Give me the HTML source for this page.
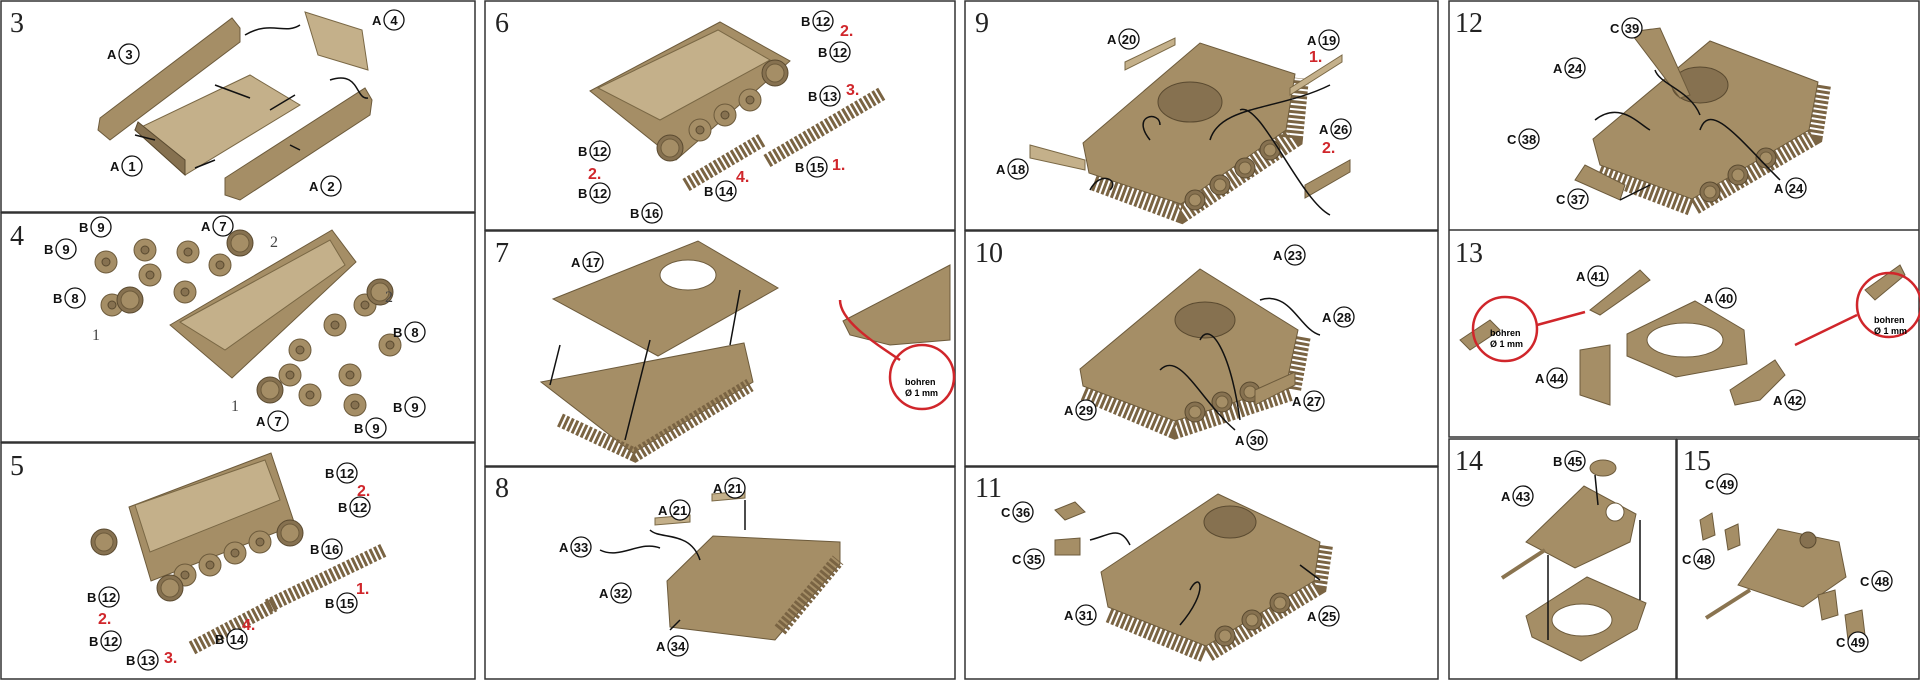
<!DOCTYPE html>
<html><head><meta charset="utf-8"><style>
html,body{margin:0;padding:0;background:#fff;}
svg{display:block;}
.s{font-family:"Liberation Serif",serif;font-size:28px;fill:#222;}
.l{font-family:"Liberation Sans",sans-serif;font-size:13px;font-weight:bold;fill:#111;}
.r{font-family:"Liberation Sans",sans-serif;font-size:16px;font-weight:bold;fill:#d0262b;}
.n{font-family:"Liberation Serif",serif;font-size:16px;fill:#444;}
.t{fill:#a58e66;stroke:#6d5b3c;stroke-width:1;}
.d{fill:#867150;stroke:#5a4a30;stroke-width:1;}
.h{fill:#c4b08a;stroke:#7a6845;stroke-width:1;}
.c{fill:#fff;stroke:#111;stroke-width:1.3;}
.a{fill:none;stroke:#111;stroke-width:1.5;}
.rd{fill:none;stroke:#d0262b;stroke-width:2.5;}
.tr{fill:none;stroke:#7a6443;stroke-width:14;stroke-dasharray:3 2;}
.tk{fill:none;stroke:#5a4a30;stroke-width:16;}
</style></head><body>
<svg width="1920" height="680" viewBox="0 0 1920 680" xmlns="http://www.w3.org/2000/svg">
<defs>
<g id="w"><circle r="11" class="t"/><circle r="4" class="d"/></g>
<g id="W"><circle r="13" class="d"/><circle r="9" class="t"/></g>
<g id="rw"><circle r="10" class="d"/><circle r="6" class="t"/></g>
</defs>
<g fill="none" stroke="#333" stroke-width="1.5">
<rect x="1" y="1" width="474" height="211"/>
<rect x="1" y="213" width="474" height="229"/>
<rect x="1" y="443" width="474" height="236"/>
<rect x="485" y="1" width="470" height="229"/>
<rect x="485" y="231" width="470" height="235"/>
<rect x="485" y="467" width="470" height="212"/>
<rect x="965" y="1" width="473" height="229"/>
<rect x="965" y="231" width="473" height="235"/>
<rect x="965" y="467" width="473" height="212"/>
<rect x="1449" y="1" width="470" height="436"/>
<rect x="1449" y="439" width="227" height="240"/>
<rect x="1677" y="439" width="242" height="240"/>
<line x1="1449" y1="230" x2="1919" y2="230"/>
</g>
<text class="s" x="10" y="32">3</text><text class="s" x="10" y="245">4</text><text class="s" x="10" y="475">5</text>
<text class="s" x="495" y="32">6</text><text class="s" x="495" y="262">7</text><text class="s" x="495" y="497">8</text>
<text class="s" x="975" y="32">9</text><text class="s" x="975" y="262">10</text><text class="s" x="975" y="497">11</text>
<text class="s" x="1455" y="32">12</text><text class="s" x="1455" y="262">13</text><text class="s" x="1455" y="470">14</text><text class="s" x="1683" y="470">15</text>

<!-- Panel 3 -->
<polygon class="t" points="100,118 232,18 240,28 240,42 110,140 98,130"/>
<polygon class="h" points="135,130 250,75 300,105 185,175"/>
<polygon class="d" points="135,130 185,175 185,160 138,122"/>
<polygon class="t" points="225,178 365,88 372,100 370,115 240,200 225,195"/>
<polygon class="h" points="305,12 362,30 368,70 318,55"/>
<path class="a" d="M245,35 C270,20 285,35 300,25 M330,80 C360,70 355,100 368,98 M215,85 L250,98 M295,95 L270,110 M300,150 L290,145 M155,140 L135,135 M195,168 L215,160"/>
<!-- Panel 4 -->
<polygon class="t" points="170,325 332,230 356,262 232,378"/>
<polygon class="h" points="180,322 330,240 345,265 225,350"/>
<use href="#w" x="145" y="250"/><use href="#w" x="106" y="262"/><use href="#w" x="112" y="305"/><use href="#w" x="150" y="275"/><use href="#w" x="188" y="252"/><use href="#w" x="185" y="292"/><use href="#w" x="220" y="265"/><use href="#W" x="130" y="300"/><use href="#W" x="240" y="243"/>
<use href="#w" x="300" y="350"/><use href="#w" x="335" y="325"/><use href="#w" x="365" y="305"/><use href="#w" x="390" y="345"/><use href="#w" x="350" y="375"/><use href="#w" x="310" y="395"/><use href="#w" x="355" y="405"/><use href="#w" x="290" y="375"/><use href="#W" x="270" y="390"/><use href="#W" x="380" y="292"/>
<!-- Panel 5 -->
<polygon class="t" points="129,507 271,453 295,525 151,581"/>
<polygon class="h" points="135,505 265,460 280,500 150,552"/>
<use href="#W" x="104" y="542"/><use href="#W" x="290" y="533"/><use href="#w" x="185" y="575"/><use href="#w" x="210" y="565"/><use href="#w" x="235" y="553"/><use href="#w" x="260" y="542"/><use href="#W" x="170" y="588"/>
<path class="tr" d="M268,606 L384,550"/>
<path class="tr" d="M192,648 L274,605"/>
<!-- Panel 6 -->
<polygon class="t" points="590,91 720,22 790,61 676,160"/>
<polygon class="h" points="598,88 718,30 770,60 660,120"/>
<use href="#W" x="775" y="73"/><use href="#W" x="670" y="148"/><use href="#w" x="700" y="130"/><use href="#w" x="725" y="115"/><use href="#w" x="750" y="100"/>
<path class="tr" d="M767,161 L883,93"/>
<path class="tr" d="M686,185 L762,140"/>
<!-- Panel 7 -->
<polygon class="t" points="541,382 744,343 753,382 633,453"/>
<path class="tr" d="M560,420 L635,455 L750,385"/>
<polygon class="t" points="553,299 698,241 778,288 658,356"/>
<ellipse cx="688" cy="275" rx="28" ry="15" fill="#fff" stroke="#6d5b3c"/>
<polygon class="t" points="843,321 950,265 950,340 890,345 850,335"/>
<path class="rd" d="M900,360 C870,340 840,320 840,300"/>
<circle cx="922" cy="377" r="32" class="rd"/>
<text x="905" y="385" style="font:bold 9px 'Liberation Sans',sans-serif">bohren</text>
<text x="905" y="396" style="font:bold 9px 'Liberation Sans',sans-serif">Ø 1 mm</text>
<path class="a" d="M560,345 L550,385 M650,340 L625,440 M740,290 L730,345"/>
<!-- Panel 8 -->
<polygon class="t" points="667,581 713,536 840,542 840,564 775,640 670,627"/>
<path class="tr" d="M780,630 L838,560"/>
<polygon class="h" points="655,518 690,515 690,522 655,525"/>
<polygon class="h" points="712,494 745,491 745,498 712,501"/>
<!-- Panel 9 -->
<path class="tr" d="M1095,180 L1181,212 L1292,138 L1298,78" style="stroke-width:22"/>
<polygon class="t" points="1083,143 1200,43 1295,74 1286,130 1181,204 1089,173"/>
<use href="#rw" x="1195" y="200"/><use href="#rw" x="1220" y="185"/><use href="#rw" x="1245" y="168"/><use href="#rw" x="1270" y="150"/>
<ellipse cx="1190" cy="102" rx="32" ry="20" class="d"/>
<polygon class="h" points="1125,62 1175,38 1175,45 1125,70"/>
<polygon class="h" points="1290,88 1342,55 1342,62 1290,95"/>
<polygon class="h" points="1030,145 1085,160 1085,170 1030,158"/>
<polygon class="t" points="1305,185 1350,160 1350,172 1305,198"/>
<!-- Panel 10 -->
<path class="tr" d="M1085,390 L1175,428 L1290,390 L1300,335" style="stroke-width:22"/>
<polygon class="t" points="1080,369 1200,269 1298,330 1286,386 1175,421 1083,386"/>
<use href="#rw" x="1195" y="412"/><use href="#rw" x="1222" y="402"/><use href="#rw" x="1250" y="392"/>
<ellipse cx="1205" cy="320" rx="30" ry="18" class="d"/>
<polygon class="t" points="1255,390 1295,372 1295,385 1255,405"/>
<!-- Panel 11 -->
<path class="tr" d="M1110,612 L1206,652 L1316,585 L1322,545" style="stroke-width:22"/>
<polygon class="t" points="1101,572 1218,494 1320,542 1314,581 1206,646 1108,607"/>
<use href="#rw" x="1225" y="636"/><use href="#rw" x="1252" y="620"/><use href="#rw" x="1280" y="603"/>
<ellipse cx="1230" cy="522" rx="26" ry="16" class="d"/>
<polygon class="t" points="1055,510 1075,502 1085,512 1065,520"/>
<polygon class="t" points="1055,540 1080,538 1080,555 1055,555"/>
<!-- Panel 12 -->
<path class="tr" d="M1600,170 L1692,205 L1812,135 L1820,85" style="stroke-width:22"/>
<polygon class="t" points="1593,139 1710,41 1818,82 1809,130 1692,199 1600,165"/>
<use href="#rw" x="1710" y="192"/><use href="#rw" x="1738" y="175"/><use href="#rw" x="1766" y="158"/>
<ellipse cx="1700" cy="85" rx="28" ry="18" class="d"/>
<polygon class="t" points="1575,180 1585,165 1625,185 1620,200"/>
<polygon class="t" points="1630,32 1660,28 1690,95 1680,98"/>
<!-- Panel 13 -->
<polygon class="t" points="1627,334 1695,301 1744,330 1747,364 1676,377 1627,356"/>
<ellipse cx="1685" cy="340" rx="38" ry="17" fill="#fff" stroke="#6d5b3c"/>
<polygon class="t" points="1580,350 1610,345 1610,405 1580,395"/>
<polygon class="t" points="1730,390 1775,360 1785,375 1760,400 1735,405"/>
<polygon class="t" points="1590,310 1640,270 1650,280 1600,315"/>
<polygon class="t" points="1460,340 1490,320 1500,330 1470,350"/>
<polygon class="t" points="1865,290 1900,265 1905,275 1875,300"/>
<circle cx="1505" cy="329" r="32" class="rd"/><circle cx="1889" cy="305" r="32" class="rd"/>
<path class="rd" d="M1537,325 L1585,312 M1857,315 L1795,345"/>
<text x="1490" y="336" style="font:bold 9px 'Liberation Sans',sans-serif">bohren</text>
<text x="1490" y="347" style="font:bold 9px 'Liberation Sans',sans-serif">Ø 1 mm</text>
<text x="1874" y="323" style="font:bold 9px 'Liberation Sans',sans-serif">bohren</text>
<text x="1874" y="334" style="font:bold 9px 'Liberation Sans',sans-serif">Ø 1 mm</text>
<!-- Panel 14 -->
<polygon class="t" points="1526,542 1584,486 1636,514 1630,542 1575,568"/>
<circle cx="1615" cy="512" r="9" fill="#fff" stroke="#6d5b3c"/>
<polygon class="t" points="1526,616 1587,577 1646,603 1637,629 1581,661 1532,637"/>
<ellipse cx="1582" cy="620" rx="30" ry="16" fill="#fff" stroke="#6d5b3c"/>
<ellipse cx="1603" cy="468" rx="13" ry="8" class="t"/>
<line x1="1545" y1="550" x2="1502" y2="578" stroke="#8a7450" stroke-width="4"/>
<path class="a" d="M1548,555 L1548,640 M1640,520 L1640,600 M1595,475 L1598,505"/>
<!-- Panel 15 -->
<polygon class="t" points="1738,585 1778,529 1839,542 1846,577 1803,607"/>
<circle cx="1808" cy="540" r="8" class="d"/>
<line x1="1750" y1="590" x2="1706" y2="618" stroke="#8a7450" stroke-width="4"/>
<polygon class="t" points="1700,520 1712,513 1715,535 1703,540"/>
<polygon class="t" points="1725,530 1738,524 1740,545 1728,550"/>
<polygon class="t" points="1818,595 1835,590 1838,615 1822,620"/>
<polygon class="t" points="1845,615 1862,610 1865,635 1848,640"/>

<g id="labels">
<g transform="translate(129,54)"><text class="l" x="-22" y="5">A</text><circle class="c" r="10"/><text class="l" text-anchor="middle" y="5">3</text></g>
<g transform="translate(394,20)"><text class="l" x="-22" y="5">A</text><circle class="c" r="10"/><text class="l" text-anchor="middle" y="5">4</text></g>
<g transform="translate(132,166)"><text class="l" x="-22" y="5">A</text><circle class="c" r="10"/><text class="l" text-anchor="middle" y="5">1</text></g>
<g transform="translate(331,186)"><text class="l" x="-22" y="5">A</text><circle class="c" r="10"/><text class="l" text-anchor="middle" y="5">2</text></g>
<g transform="translate(101,227)"><text class="l" x="-22" y="5">B</text><circle class="c" r="10"/><text class="l" text-anchor="middle" y="5">9</text></g>
<g transform="translate(66,249)"><text class="l" x="-22" y="5">B</text><circle class="c" r="10"/><text class="l" text-anchor="middle" y="5">9</text></g>
<g transform="translate(223,226)"><text class="l" x="-22" y="5">A</text><circle class="c" r="10"/><text class="l" text-anchor="middle" y="5">7</text></g>
<g transform="translate(75,298)"><text class="l" x="-22" y="5">B</text><circle class="c" r="10"/><text class="l" text-anchor="middle" y="5">8</text></g>
<g transform="translate(415,332)"><text class="l" x="-22" y="5">B</text><circle class="c" r="10"/><text class="l" text-anchor="middle" y="5">8</text></g>
<g transform="translate(415,407)"><text class="l" x="-22" y="5">B</text><circle class="c" r="10"/><text class="l" text-anchor="middle" y="5">9</text></g>
<g transform="translate(278,421)"><text class="l" x="-22" y="5">A</text><circle class="c" r="10"/><text class="l" text-anchor="middle" y="5">7</text></g>
<g transform="translate(376,428)"><text class="l" x="-22" y="5">B</text><circle class="c" r="10"/><text class="l" text-anchor="middle" y="5">9</text></g>
<text class="n" x="270" y="247">2</text><text class="n" x="385" y="302">2</text><text class="n" x="92" y="340">1</text><text class="n" x="231" y="411">1</text>
<g transform="translate(347,473)"><text class="l" x="-22" y="5">B</text><circle class="c" r="10"/><text class="l" text-anchor="middle" y="5">12</text></g>
<g transform="translate(360,507)"><text class="l" x="-22" y="5">B</text><circle class="c" r="10"/><text class="l" text-anchor="middle" y="5">12</text></g>
<g transform="translate(332,549)"><text class="l" x="-22" y="5">B</text><circle class="c" r="10"/><text class="l" text-anchor="middle" y="5">16</text></g>
<g transform="translate(347,603)"><text class="l" x="-22" y="5">B</text><circle class="c" r="10"/><text class="l" text-anchor="middle" y="5">15</text></g>
<g transform="translate(109,597)"><text class="l" x="-22" y="5">B</text><circle class="c" r="10"/><text class="l" text-anchor="middle" y="5">12</text></g>
<g transform="translate(111,641)"><text class="l" x="-22" y="5">B</text><circle class="c" r="10"/><text class="l" text-anchor="middle" y="5">12</text></g>
<g transform="translate(148,660)"><text class="l" x="-22" y="5">B</text><circle class="c" r="10"/><text class="l" text-anchor="middle" y="5">13</text></g>
<g transform="translate(237,639)"><text class="l" x="-22" y="5">B</text><circle class="c" r="10"/><text class="l" text-anchor="middle" y="5">14</text></g>
<text class="r" x="357" y="496">2.</text><text class="r" x="356" y="594">1.</text><text class="r" x="98" y="624">2.</text><text class="r" x="164" y="663">3.</text><text class="r" x="242" y="630">4.</text>
<g transform="translate(823,21)"><text class="l" x="-22" y="5">B</text><circle class="c" r="10"/><text class="l" text-anchor="middle" y="5">12</text></g>
<g transform="translate(840,52)"><text class="l" x="-22" y="5">B</text><circle class="c" r="10"/><text class="l" text-anchor="middle" y="5">12</text></g>
<g transform="translate(830,96)"><text class="l" x="-22" y="5">B</text><circle class="c" r="10"/><text class="l" text-anchor="middle" y="5">13</text></g>
<g transform="translate(817,167)"><text class="l" x="-22" y="5">B</text><circle class="c" r="10"/><text class="l" text-anchor="middle" y="5">15</text></g>
<g transform="translate(600,151)"><text class="l" x="-22" y="5">B</text><circle class="c" r="10"/><text class="l" text-anchor="middle" y="5">12</text></g>
<g transform="translate(600,193)"><text class="l" x="-22" y="5">B</text><circle class="c" r="10"/><text class="l" text-anchor="middle" y="5">12</text></g>
<g transform="translate(652,213)"><text class="l" x="-22" y="5">B</text><circle class="c" r="10"/><text class="l" text-anchor="middle" y="5">16</text></g>
<g transform="translate(726,191)"><text class="l" x="-22" y="5">B</text><circle class="c" r="10"/><text class="l" text-anchor="middle" y="5">14</text></g>
<text class="r" x="840" y="36">2.</text><text class="r" x="846" y="95">3.</text><text class="r" x="832" y="170">1.</text><text class="r" x="588" y="179">2.</text><text class="r" x="736" y="182">4.</text>
<g transform="translate(593,262)"><text class="l" x="-22" y="5">A</text><circle class="c" r="10"/><text class="l" text-anchor="middle" y="5">17</text></g>
<g transform="translate(735,488)"><text class="l" x="-22" y="5">A</text><circle class="c" r="10"/><text class="l" text-anchor="middle" y="5">21</text></g>
<g transform="translate(680,510)"><text class="l" x="-22" y="5">A</text><circle class="c" r="10"/><text class="l" text-anchor="middle" y="5">21</text></g>
<g transform="translate(581,547)"><text class="l" x="-22" y="5">A</text><circle class="c" r="10"/><text class="l" text-anchor="middle" y="5">33</text></g>
<g transform="translate(621,593)"><text class="l" x="-22" y="5">A</text><circle class="c" r="10"/><text class="l" text-anchor="middle" y="5">32</text></g>
<g transform="translate(678,646)"><text class="l" x="-22" y="5">A</text><circle class="c" r="10"/><text class="l" text-anchor="middle" y="5">34</text></g>
<g transform="translate(1129,39)"><text class="l" x="-22" y="5">A</text><circle class="c" r="10"/><text class="l" text-anchor="middle" y="5">20</text></g>
<g transform="translate(1329,40)"><text class="l" x="-22" y="5">A</text><circle class="c" r="10"/><text class="l" text-anchor="middle" y="5">19</text></g>
<g transform="translate(1341,129)"><text class="l" x="-22" y="5">A</text><circle class="c" r="10"/><text class="l" text-anchor="middle" y="5">26</text></g>
<g transform="translate(1018,169)"><text class="l" x="-22" y="5">A</text><circle class="c" r="10"/><text class="l" text-anchor="middle" y="5">18</text></g>
<text class="r" x="1309" y="62">1.</text><text class="r" x="1322" y="153">2.</text>
<g transform="translate(1295,255)"><text class="l" x="-22" y="5">A</text><circle class="c" r="10"/><text class="l" text-anchor="middle" y="5">23</text></g>
<g transform="translate(1344,317)"><text class="l" x="-22" y="5">A</text><circle class="c" r="10"/><text class="l" text-anchor="middle" y="5">28</text></g>
<g transform="translate(1314,401)"><text class="l" x="-22" y="5">A</text><circle class="c" r="10"/><text class="l" text-anchor="middle" y="5">27</text></g>
<g transform="translate(1086,410)"><text class="l" x="-22" y="5">A</text><circle class="c" r="10"/><text class="l" text-anchor="middle" y="5">29</text></g>
<g transform="translate(1257,440)"><text class="l" x="-22" y="5">A</text><circle class="c" r="10"/><text class="l" text-anchor="middle" y="5">30</text></g>
<g transform="translate(1023,512)"><text class="l" x="-22" y="5">C</text><circle class="c" r="10"/><text class="l" text-anchor="middle" y="5">36</text></g>
<g transform="translate(1034,559)"><text class="l" x="-22" y="5">C</text><circle class="c" r="10"/><text class="l" text-anchor="middle" y="5">35</text></g>
<g transform="translate(1086,615)"><text class="l" x="-22" y="5">A</text><circle class="c" r="10"/><text class="l" text-anchor="middle" y="5">31</text></g>
<g transform="translate(1329,616)"><text class="l" x="-22" y="5">A</text><circle class="c" r="10"/><text class="l" text-anchor="middle" y="5">25</text></g>
<g transform="translate(1632,28)"><text class="l" x="-22" y="5">C</text><circle class="c" r="10"/><text class="l" text-anchor="middle" y="5">39</text></g>
<g transform="translate(1575,68)"><text class="l" x="-22" y="5">A</text><circle class="c" r="10"/><text class="l" text-anchor="middle" y="5">24</text></g>
<g transform="translate(1529,139)"><text class="l" x="-22" y="5">C</text><circle class="c" r="10"/><text class="l" text-anchor="middle" y="5">38</text></g>
<g transform="translate(1578,199)"><text class="l" x="-22" y="5">C</text><circle class="c" r="10"/><text class="l" text-anchor="middle" y="5">37</text></g>
<g transform="translate(1796,188)"><text class="l" x="-22" y="5">A</text><circle class="c" r="10"/><text class="l" text-anchor="middle" y="5">24</text></g>
<g transform="translate(1598,276)"><text class="l" x="-22" y="5">A</text><circle class="c" r="10"/><text class="l" text-anchor="middle" y="5">41</text></g>
<g transform="translate(1726,298)"><text class="l" x="-22" y="5">A</text><circle class="c" r="10"/><text class="l" text-anchor="middle" y="5">40</text></g>
<g transform="translate(1557,378)"><text class="l" x="-22" y="5">A</text><circle class="c" r="10"/><text class="l" text-anchor="middle" y="5">44</text></g>
<g transform="translate(1795,400)"><text class="l" x="-22" y="5">A</text><circle class="c" r="10"/><text class="l" text-anchor="middle" y="5">42</text></g>
<g transform="translate(1575,461)"><text class="l" x="-22" y="5">B</text><circle class="c" r="10"/><text class="l" text-anchor="middle" y="5">45</text></g>
<g transform="translate(1523,496)"><text class="l" x="-22" y="5">A</text><circle class="c" r="10"/><text class="l" text-anchor="middle" y="5">43</text></g>
<g transform="translate(1727,484)"><text class="l" x="-22" y="5">C</text><circle class="c" r="10"/><text class="l" text-anchor="middle" y="5">49</text></g>
<g transform="translate(1704,559)"><text class="l" x="-22" y="5">C</text><circle class="c" r="10"/><text class="l" text-anchor="middle" y="5">48</text></g>
<g transform="translate(1882,581)"><text class="l" x="-22" y="5">C</text><circle class="c" r="10"/><text class="l" text-anchor="middle" y="5">48</text></g>
<g transform="translate(1858,642)"><text class="l" x="-22" y="5">C</text><circle class="c" r="10"/><text class="l" text-anchor="middle" y="5">49</text></g>
</g>
<path class="a" d="M1150,140 C1130,115 1160,110 1160,125 M1210,140 C1220,105 1280,110 1330,85 M1240,110 C1260,100 1300,200 1330,215 M1090,190 C1100,170 1120,180 1110,190"/>
<path class="a" d="M1260,300 C1290,290 1300,330 1320,335 M1200,340 C1210,320 1230,350 1240,420 M1160,370 C1180,350 1200,400 1235,430"/>
<path class="a" d="M1090,540 C1110,535 1120,525 1130,545 M1190,590 C1200,570 1210,590 1180,625 M1300,565 L1320,580"/>
<path class="a" d="M1655,70 C1660,85 1690,90 1700,115 M1595,120 C1620,100 1640,125 1650,130 M1700,130 C1710,100 1740,140 1780,180 M1620,200 L1650,185"/>
<path class="a" d="M600,550 C620,560 640,540 660,548 M650,530 C660,540 690,530 700,560 M745,500 L745,530 M680,620 L670,630"/>
</svg>
</body></html>
